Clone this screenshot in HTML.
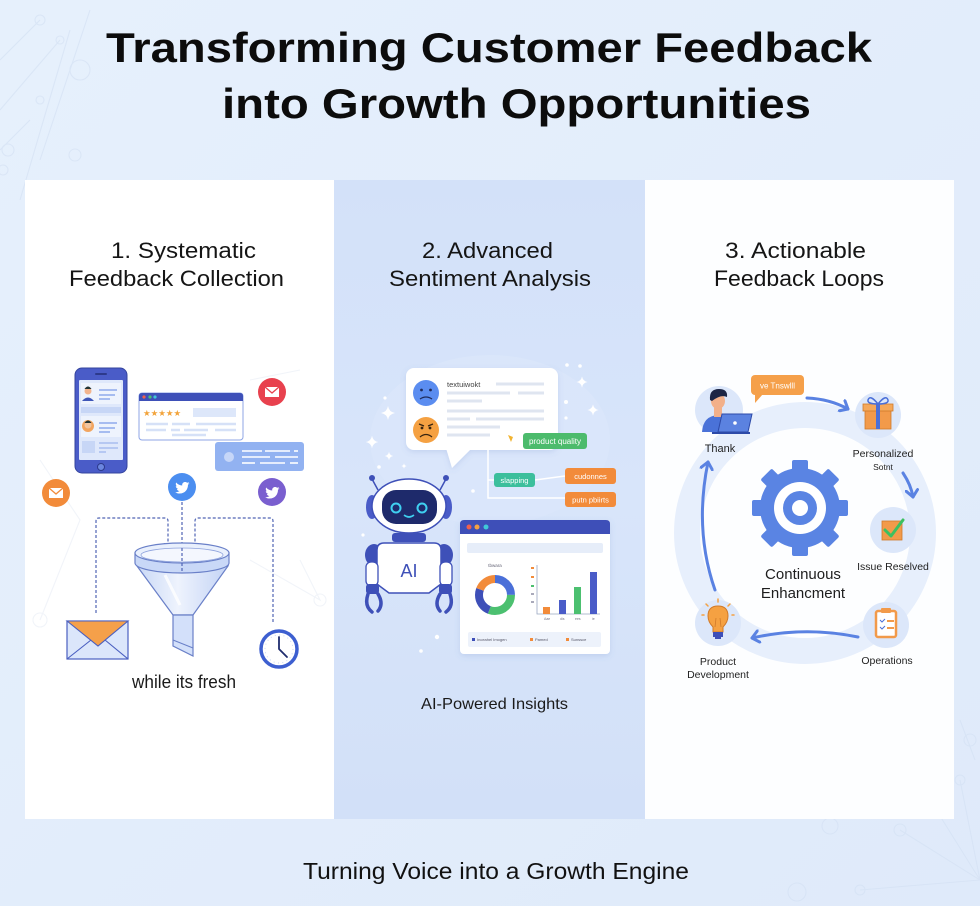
<!DOCTYPE html>
<html><head><meta charset="utf-8"><style>
html,body{margin:0;padding:0;width:980px;height:906px;overflow:hidden;background:#e3eefb}
svg{display:block}
text{font-family:"Liberation Sans",Arial,sans-serif}
</style></head><body>
<svg width="980" height="906" viewBox="0 0 980 906" xmlns="http://www.w3.org/2000/svg">
<defs>
<linearGradient id="bg" x1="0" y1="0" x2="1" y2="1"><stop offset="0" stop-color="#e6f0fc"/><stop offset="1" stop-color="#dfeafa"/></linearGradient>
<linearGradient id="p2" x1="0" y1="0" x2="0" y2="1"><stop offset="0" stop-color="#d3e1f9"/><stop offset="0.5" stop-color="#d8e5fa"/><stop offset="1" stop-color="#d2e0f8"/></linearGradient>
<linearGradient id="fun" x1="0" y1="0" x2="1" y2="0"><stop offset="0" stop-color="#c9d8f6"/><stop offset="0.45" stop-color="#eef3fd"/><stop offset="1" stop-color="#c3d3f5"/></linearGradient>
<filter id="sh" x="-10%" y="-10%" width="120%" height="130%"><feDropShadow dx="0" dy="2" stdDeviation="3" flood-color="#5a78c0" flood-opacity="0.18"/></filter>
<marker id="ah" markerWidth="8" markerHeight="8" refX="5" refY="4" orient="auto" markerUnits="userSpaceOnUse"><path d="M0,0 L6,4 L0,8" fill="none" stroke="#4e6bc0" stroke-width="1.2"/></marker>
<marker id="ab" markerWidth="14" markerHeight="14" refX="8" refY="7" orient="auto" markerUnits="userSpaceOnUse"><path d="M1,1 L8,7 L1,13" fill="none" stroke="#5a82e2" stroke-width="3" stroke-linecap="round" stroke-linejoin="round"/></marker>
<path id="bird" d="M23 5c-.8.4-1.7.6-2.6.7.9-.6 1.6-1.4 2-2.5-.9.5-1.8.9-2.8 1.1C18.7 3.4 17.5 3 16.3 3c-2.5 0-4.5 2-4.5 4.5 0 .4 0 .7.1 1C8.1 8.3 4.8 6.5 2.6 3.8c-.4.7-.6 1.5-.6 2.3 0 1.6.8 2.9 2 3.7-.7 0-1.4-.2-2-.6v.1c0 2.2 1.6 4 3.6 4.4-.4.1-.8.2-1.2.2-.3 0-.6 0-.8-.1.6 1.8 2.2 3.1 4.2 3.1-1.5 1.2-3.5 1.9-5.6 1.9H1c2 1.3 4.4 2 6.9 2 8.3 0 12.8-6.9 12.8-12.8v-.6C21.6 6.7 22.4 5.9 23 5z" fill="#fff"/>
<path id="spark" d="M0,-7 Q1,-1 7,0 Q1,1 0,7 Q-1,1 -7,0 Q-1,-1 0,-7Z" fill="#fff"/>
</defs>

<rect width="980" height="906" fill="url(#bg)"/>
<!-- background network decorations -->
<g stroke="#d3e0f3" stroke-width="1.1" fill="none" opacity="0.6">
<path d="M0,60 L40,20 M0,110 L60,40 M20,200 L70,30 M40,160 L90,10 M0,150 L30,120"/>
<circle cx="40" cy="20" r="5"/><circle cx="60" cy="40" r="4"/><circle cx="8" cy="150" r="6"/><circle cx="80" cy="70" r="10"/><circle cx="40" cy="100" r="4"/><circle cx="75" cy="155" r="6"/><circle cx="3" cy="170" r="5"/>
<path d="M980,880 L900,830 M980,880 L930,800 M980,880 L960,780 M980,880 L860,890 M960,720 L975,760"/>
<circle cx="900" cy="830" r="6"/><circle cx="930" cy="800" r="5"/><circle cx="960" cy="780" r="5"/><circle cx="860" cy="890" r="5"/><circle cx="830" cy="826" r="8"/><circle cx="797" cy="892" r="9"/><circle cx="970" cy="740" r="6"/>
</g>

<!-- Title -->
<text x="106" y="62" font-size="42" font-weight="bold" fill="#0c0c0c" textLength="766" lengthAdjust="spacingAndGlyphs">Transforming Customer Feedback</text>
<text x="222" y="118" font-size="42" font-weight="bold" fill="#0c0c0c" textLength="589" lengthAdjust="spacingAndGlyphs">into Growth Opportunities</text>

<!-- Panels -->
<rect x="25" y="180" width="309" height="639" fill="#ffffff"/>
<rect x="334" y="180" width="311" height="639" fill="url(#p2)"/>
<rect x="645" y="180" width="309" height="639" fill="#fdfeff"/>

<!-- Headings -->
<g font-size="22" fill="#151515">
<text x="111" y="258" textLength="145" lengthAdjust="spacingAndGlyphs">1. Systematic</text>
<text x="69" y="286" textLength="215" lengthAdjust="spacingAndGlyphs">Feedback Collection</text>
<text x="422" y="258" textLength="131" lengthAdjust="spacingAndGlyphs">2. Advanced</text>
<text x="389" y="286" textLength="202" lengthAdjust="spacingAndGlyphs">Sentiment Analysis</text>
<text x="725" y="258" textLength="141" lengthAdjust="spacingAndGlyphs">3. Actionable</text>
<text x="714" y="286" textLength="170" lengthAdjust="spacingAndGlyphs">Feedback Loops</text>
</g>

<!-- ============ PANEL 1 ============ -->
<g stroke="#f1f4f9" stroke-width="1.1" fill="none">
<path d="M40,460 L80,520 L40,620 M250,380 L300,370 M300,560 L320,600 L250,560"/>
<circle cx="40" cy="620" r="7"/><circle cx="320" cy="600" r="6"/>
</g>
<!-- phone -->
<rect x="75" y="368" width="52" height="105" rx="7" fill="#4a5cc8" stroke="#34449e" stroke-width="1"/>
<rect x="79" y="380" width="44" height="80" rx="1" fill="#dfe8fb"/>
<rect x="95" y="373" width="12" height="2" rx="1" fill="#2d3a8c"/>
<circle cx="101" cy="467" r="3.5" fill="#6b86e0" stroke="#2d3a8c" stroke-width="1"/>
<rect x="81" y="383" width="40" height="21" fill="#eef3fd"/>
<circle cx="88" cy="391" r="3.5" fill="#f2b48e"/><path d="M84.5,389 Q88,384 91.5,389Z" fill="#233"/><path d="M82,401 Q88,394 94,401Z" fill="#3e56b8"/>
<g stroke="#8fa9ec" stroke-width="1.5"><line x1="99" y1="390" x2="117" y2="390"/><line x1="99" y1="395" x2="115" y2="395"/><line x1="99" y1="399" x2="110" y2="399"/></g>
<rect x="81" y="407" width="40" height="6" fill="#c7d6f6"/>
<rect x="81" y="416" width="40" height="21" fill="#eef3fd"/>
<circle cx="88" cy="426" r="6" fill="#f2a560"/><circle cx="88" cy="425" r="3.5" fill="#f2c49e"/><path d="M84.5,423 Q88,418 91.5,423Z" fill="#233"/>
<g stroke="#8fa9ec" stroke-width="1.5"><line x1="99" y1="423" x2="117" y2="423"/><line x1="99" y1="428" x2="115" y2="428"/><line x1="99" y1="432" x2="110" y2="432"/></g>
<rect x="82" y="441" width="13" height="12" fill="#c7d6f6"/>
<g stroke="#a9bdf0" stroke-width="1.5"><line x1="99" y1="443" x2="118" y2="443"/><line x1="99" y1="448" x2="118" y2="448"/><line x1="99" y1="452" x2="106" y2="452"/></g>
<!-- review card -->
<rect x="139" y="393" width="104" height="47" rx="3" fill="#fff" stroke="#8fa6e6" stroke-width="1"/>
<path d="M139,401 V396 Q139,393 142,393 H240 Q243,393 243,396 V401Z" fill="#3e50b8"/>
<circle cx="144" cy="397" r="1.6" fill="#f0604d"/><circle cx="150" cy="397" r="1.6" fill="#4cc070"/><circle cx="155" cy="397" r="1.6" fill="#40c8d8"/>
<g fill="#f2a33a" font-size="8.5"><text x="143" y="416">★★★★★</text></g>
<rect x="193" y="408" width="43" height="9" fill="#dde7fa"/>
<g stroke="#d6e1f7" stroke-width="2.5"><line x1="146" y1="424" x2="168" y2="424"/><line x1="172" y1="424" x2="190" y2="424"/><line x1="196" y1="424" x2="236" y2="424"/><line x1="146" y1="430" x2="166" y2="430"/><line x1="171" y1="430" x2="180" y2="430"/><line x1="184" y1="430" x2="208" y2="430"/><line x1="215" y1="430" x2="236" y2="430"/><line x1="172" y1="435" x2="206" y2="435"/></g>
<!-- red mail -->
<circle cx="272" cy="392" r="14" fill="#e8414e"/>
<rect x="265" y="387" width="14" height="10" fill="#fff"/><path d="M265,387 L272,393 L279,387" fill="none" stroke="#e8414e" stroke-width="1.3"/>
<!-- message -->
<rect x="215" y="442" width="89" height="29" rx="3" fill="#92b2f1"/>
<circle cx="229" cy="457" r="5" fill="#c6d6f8"/>
<g stroke="#fff" stroke-width="1.6"><line x1="242" y1="451" x2="262" y2="451"/><line x1="265" y1="451" x2="290" y2="451"/><line x1="294" y1="451" x2="298" y2="451"/><line x1="242" y1="457" x2="270" y2="457"/><line x1="275" y1="457" x2="298" y2="457"/><line x1="242" y1="463" x2="255" y2="463"/><line x1="260" y1="463" x2="285" y2="463"/><line x1="290" y1="463" x2="298" y2="463"/></g>
<!-- social circles -->
<circle cx="56" cy="493" r="14" fill="#f28b3a"/>
<rect x="49" y="488" width="14" height="10" fill="#fff"/><path d="M49,488 L56,494 L63,488" fill="none" stroke="#f28b3a" stroke-width="1.3"/>
<circle cx="182" cy="487" r="14" fill="#4b8ef0"/>
<use href="#bird" transform="translate(174.5,480) scale(0.65)"/>
<circle cx="272" cy="492" r="14" fill="#7a5fcf"/>
<use href="#bird" transform="translate(264.5,485) scale(0.65)"/>
<!-- dashed lines -->
<g fill="none" stroke="#5065b5" stroke-width="1.2" stroke-dasharray="3 2">
<path d="M182,502 V572"/>
<path d="M96,613 V521 Q96,518 99,518 H165 Q168,518 168,521 V548" marker-end="url(#ah)"/>
<path d="M273,622 V521 Q273,518 270,518 H198 Q195,518 195,521 V548" marker-end="url(#ah)"/>
</g>
<!-- funnel -->
<path d="M137,566 L173,615 L193,615 L228,566 Z" fill="url(#fun)" stroke="#6a80c8" stroke-width="1.2"/>
<path d="M165,575 L180,605" stroke="#fff" stroke-width="3" opacity="0.8"/>
<path d="M173,615 L173,646 L193,656 L193,615 Z" fill="#d3e0fa" stroke="#6a80c8" stroke-width="1.2"/>
<path d="M173,640 L193,648" stroke="#6a80c8" stroke-width="1"/>
<path d="M135,553 L135,563 A47,10 0 0 0 229,563 L229,553 Z" fill="#c9d8f7" stroke="#6a80c8" stroke-width="1.2"/>
<ellipse cx="182" cy="553" rx="47" ry="10" fill="#e9f0fd" stroke="#6a80c8" stroke-width="1.2"/>
<ellipse cx="182" cy="555" rx="41" ry="7" fill="#f4f7fe" stroke="#8ea2dc" stroke-width="0.8"/>
<line x1="182" y1="548" x2="182" y2="572" stroke="#5065b5" stroke-width="1.2" stroke-dasharray="3 2"/>
<!-- envelope -->
<rect x="67" y="621" width="61" height="38" fill="#dbe6fb" stroke="#4a5fc0" stroke-width="1.2"/>
<path d="M67,659 L91,640 M128,659 L105,640" stroke="#4a5fc0" stroke-width="1.1"/>
<path d="M67,621 L98,646 L128,621 Z" fill="#f5a04a" stroke="#4a5fc0" stroke-width="1.1"/>
<!-- clock -->
<circle cx="279" cy="649" r="18" fill="#fff" stroke="#3d5fd0" stroke-width="3.5"/>
<circle cx="279" cy="649" r="14" fill="none" stroke="#c9d6f4" stroke-width="1" stroke-dasharray="1 3.4"/>
<path d="M279,649 V637 M279,649 L287,657" stroke="#1f2c6e" stroke-width="1.8" stroke-linecap="round"/>
<text x="132" y="688" font-size="18" fill="#1a1a1a" textLength="104" lengthAdjust="spacingAndGlyphs">while its fresh</text>

<!-- ============ PANEL 2 ============ -->
<ellipse cx="490" cy="440" rx="120" ry="85" fill="#dce7fb" opacity="0.7"/>
<g>
<use href="#spark" transform="translate(388,413)"/>
<use href="#spark" transform="translate(372,442) scale(0.9)"/>
<use href="#spark" transform="translate(389,456) scale(0.6)"/>
<use href="#spark" transform="translate(582,382) scale(0.8)"/>
<use href="#spark" transform="translate(593,410) scale(0.8)"/>
<use href="#spark" transform="translate(404,466) scale(0.4)"/>
<circle cx="567" cy="365" r="1.8" fill="#fff"/><circle cx="580" cy="366" r="1.8" fill="#fff"/><circle cx="566" cy="402" r="2" fill="#fff"/><circle cx="566" cy="418" r="1.6" fill="#fff"/><circle cx="385" cy="398" r="1.6" fill="#fff"/><circle cx="379" cy="467" r="1.8" fill="#fff"/><circle cx="473" cy="491" r="1.8" fill="#fff"/><circle cx="437" cy="637" r="2.2" fill="#fff"/><circle cx="421" cy="651" r="1.8" fill="#fff"/><circle cx="363" cy="535" r="1.6" fill="#fff"/>
</g>
<!-- bubble -->
<g filter="url(#sh)">
<rect x="406" y="368" width="152" height="82" rx="8" fill="#fff"/>
<path d="M446,448 L452,468 L472,448 Z" fill="#fff"/>
</g>
<circle cx="426" cy="393" r="13" fill="#5b8df0"/>
<circle cx="421.5" cy="390" r="1.4" fill="#1e2a5a"/><circle cx="430.5" cy="390" r="1.4" fill="#1e2a5a"/><path d="M420,399 Q426,395 432,399" fill="none" stroke="#1e2a5a" stroke-width="1.3"/>
<circle cx="426" cy="430" r="13" fill="#f5a142"/>
<path d="M419,424 L424,426 M433,424 L428,426" stroke="#3a2510" stroke-width="1.3"/><circle cx="422" cy="428" r="1.4" fill="#3a2510"/><circle cx="430" cy="428" r="1.4" fill="#3a2510"/><path d="M420,437 Q426,432 432,437" fill="none" stroke="#3a2510" stroke-width="1.3"/>
<text x="447" y="387" font-size="7.5" fill="#444">textuiwokt</text>
<g stroke="#dfe5f0" stroke-width="3"><line x1="496" y1="384" x2="544" y2="384"/><line x1="447" y1="393" x2="510" y2="393"/><line x1="518" y1="393" x2="544" y2="393"/><line x1="447" y1="401" x2="482" y2="401"/><line x1="447" y1="411" x2="544" y2="411"/><line x1="447" y1="419" x2="470" y2="419"/><line x1="476" y1="419" x2="544" y2="419"/><line x1="447" y1="427" x2="500" y2="427"/><line x1="447" y1="435" x2="490" y2="435"/></g>
<path d="M508,435 L513,437 L511,442 Z" fill="#f2b330"/>
<!-- tags & connectors -->
<g stroke="#fff" stroke-width="1.5" fill="none"><path d="M488,450 V498 H565 M488,480 H494 M535,480 Q550,478 565,476"/></g>
<rect x="523" y="433" width="64" height="16" rx="3" fill="#4cbb6c"/>
<text x="555" y="444" font-size="8" fill="#fff" text-anchor="middle">product quality</text>
<rect x="494" y="473" width="41" height="14" rx="3" fill="#3cbf9c"/>
<text x="514.5" y="483" font-size="7.5" fill="#fff" text-anchor="middle">slapping</text>
<rect x="565" y="468" width="51" height="16" rx="3" fill="#f28b3a"/>
<text x="590.5" y="479" font-size="7.5" fill="#fff" text-anchor="middle">cudonnes</text>
<rect x="565" y="492" width="51" height="15" rx="3" fill="#f28b3a"/>
<text x="590.5" y="502.5" font-size="7.5" fill="#fff" text-anchor="middle">putn pbiirts</text>
<!-- robot -->
<line x1="378" y1="490" x2="372" y2="479" stroke="#3e50b8" stroke-width="1.5"/><circle cx="372" cy="478" r="3" fill="#3e50b8"/>
<line x1="440" y1="490" x2="446" y2="479" stroke="#3e50b8" stroke-width="1.5"/><circle cx="446" cy="478" r="3" fill="#3e50b8"/>
<ellipse cx="372" cy="507" rx="6" ry="12" fill="#4a5cc8"/><ellipse cx="446" cy="507" rx="6" ry="12" fill="#4a5cc8"/>
<ellipse cx="409" cy="506" rx="37" ry="27" fill="#fff" stroke="#3e50b8" stroke-width="1.5"/>
<rect x="382" y="490" width="55" height="34" rx="14" fill="#1e2a6b"/>
<circle cx="396" cy="508" r="4.5" fill="none" stroke="#3fd0f0" stroke-width="2"/><circle cx="422" cy="508" r="4.5" fill="none" stroke="#3fd0f0" stroke-width="2"/>
<path d="M404,515 Q409,519 414,515" fill="none" stroke="#3fd0f0" stroke-width="1.6"/>
<rect x="392" y="533" width="34" height="9" rx="3" fill="#3e50b8"/>
<ellipse cx="374" cy="555" rx="9" ry="11" fill="#3e50b8"/><ellipse cx="444" cy="555" rx="9" ry="11" fill="#3e50b8"/>
<path d="M384,543 H434 Q441,543 441,550 V584 L429,593 H389 L377,584 V550 Q377,543 384,543 Z" fill="#fff" stroke="#3e50b8" stroke-width="1.5"/>
<text x="409" y="577" font-size="18" fill="#3e50b8" text-anchor="middle">AI</text>
<rect x="366" y="562" width="12" height="24" rx="5" fill="#fff" stroke="#3e50b8" stroke-width="1.3"/>
<rect x="440" y="562" width="12" height="24" rx="5" fill="#fff" stroke="#3e50b8" stroke-width="1.3"/>
<rect x="366" y="584" width="13" height="10" rx="3" fill="#3e50b8"/><rect x="439" y="584" width="13" height="10" rx="3" fill="#3e50b8"/>
<path d="M368,594 Q364,606 372,612 M378,594 Q384,604 378,611" fill="none" stroke="#3e50b8" stroke-width="3.5" stroke-linecap="round"/>
<path d="M450,594 Q454,606 446,612 M440,594 Q434,604 440,611" fill="none" stroke="#3e50b8" stroke-width="3.5" stroke-linecap="round"/>
<!-- dashboard -->
<g filter="url(#sh)"><rect x="460" y="520" width="150" height="134" rx="4" fill="#fff"/></g>
<path d="M460,534 V524 Q460,520 464,520 H606 Q610,520 610,524 V534Z" fill="#3e4fb8"/>
<circle cx="469" cy="527" r="2.5" fill="#f0604d"/><circle cx="477" cy="527" r="2.5" fill="#f5a142"/><circle cx="486" cy="527" r="2.5" fill="#40c8d8"/>
<rect x="467" y="543" width="136" height="10" rx="2" fill="#e6edf9"/>
<text x="495" y="567" font-size="4.5" fill="#667" text-anchor="middle">tbwara</text>
<g fill="none" stroke-width="8" transform="rotate(-90 495 595)">
<circle cx="495" cy="595" r="16" stroke="#4a6fd8" stroke-dasharray="25 76"/>
<circle cx="495" cy="595" r="16" stroke="#4cc070" stroke-dasharray="0 25 31 45"/>
<circle cx="495" cy="595" r="16" stroke="#3e4fb8" stroke-dasharray="0 56 25 20"/>
<circle cx="495" cy="595" r="16" stroke="#f28b3a" stroke-dasharray="0 81 20 0"/>
</g>
<path d="M537,565 V614 H600" fill="none" stroke="#99a6c0" stroke-width="0.8"/>
<g><rect x="531" y="567" width="3" height="2" fill="#f28b3a"/><rect x="531" y="576" width="3" height="2" fill="#f28b3a"/><rect x="531" y="585" width="3" height="2" fill="#4cc070"/><rect x="531" y="593" width="3" height="2" fill="#aab"/><rect x="531" y="601" width="3" height="2" fill="#aab"/></g>
<rect x="543" y="607" width="7" height="7" fill="#f28b3a"/>
<rect x="559" y="600" width="7" height="14" fill="#4a5cc8"/>
<rect x="574" y="587" width="7" height="27" fill="#4cc070"/>
<rect x="590" y="572" width="7" height="42" fill="#4a5cc8"/>
<g font-size="3.5" fill="#778"><text x="544" y="620">Aae</text><text x="560" y="620">dis</text><text x="575" y="620">ees</text><text x="592" y="620">ie</text></g>
<rect x="468" y="632" width="133" height="15" rx="2" fill="#edf2fb"/>
<rect x="472" y="638" width="3" height="3" fill="#3e4fb8"/><text x="477" y="641" font-size="4" fill="#556">Inceahel Imogen</text>
<rect x="530" y="638" width="3" height="3" fill="#f28b3a"/><text x="535" y="641" font-size="4" fill="#556">Pamed</text>
<rect x="566" y="638" width="3" height="3" fill="#f28b3a"/><text x="571" y="641" font-size="4" fill="#556">Sunssce</text>
<text x="421" y="709" font-size="16" fill="#1a1a1a" textLength="147" lengthAdjust="spacingAndGlyphs">AI-Powered Insights</text>

<!-- ============ PANEL 3 ============ -->
<circle cx="805" cy="533" r="118" fill="none" stroke="#e7effc" stroke-width="26"/>
<!-- arrows -->
<g fill="none" stroke="#5a82e2" stroke-width="3" stroke-linecap="round">
<path d="M807,398 Q830,399 848,409" marker-end="url(#ab)"/>
<path d="M903,473 Q911,485 913,497" marker-end="url(#ab)"/>
<path d="M858,637 Q805,626 752,638" marker-end="url(#ab)"/>
<path d="M715,590 Q694,530 708,462" marker-end="url(#ab)"/>
</g>
<!-- person node -->
<circle cx="719" cy="410" r="24" fill="#dce7fa"/>
<path d="M702,432 Q703,416 718,415 Q733,416 734,432Z" fill="#4a72d8"/>
<rect x="714" y="405" width="8" height="12" fill="#f2b08a"/>
<ellipse cx="718" cy="401" rx="7" ry="8" fill="#f2b08a"/>
<path d="M710,400 Q709,389 719,389 Q728,389 727,397 Q721,394 712,401Z" fill="#1c2545"/>
<path d="M722,414 L752,414 L748,432 L718,432Z" fill="#5b82e0" stroke="#2d4aa8" stroke-width="1"/>
<rect x="712" y="432" width="38" height="2" fill="#2d4aa8"/>
<circle cx="735" cy="423" r="1.8" fill="#fff"/>
<!-- orange bubble -->
<rect x="751" y="375" width="53" height="20" rx="4" fill="#f5a04a"/>
<path d="M755,394 L755,403 L763,394Z" fill="#f5a04a"/>
<text x="777.5" y="388.5" font-size="8" fill="#fff" text-anchor="middle">ve Tnswlll</text>
<text x="720" y="452" font-size="11" fill="#222" text-anchor="middle">Thank</text>
<!-- gift -->
<circle cx="878" cy="415" r="23" fill="#dce7fa"/>
<rect x="865" y="409" width="26" height="20" fill="#f29a4a" stroke="#d07a2a" stroke-width="0.8"/>
<rect x="863" y="404" width="30" height="7" fill="#f5a85a" stroke="#d07a2a" stroke-width="0.8"/>
<rect x="876" y="404" width="4" height="25" fill="#4a6fd8"/>
<path d="M878,404 Q870,394 868,400 Q867,404 878,404 Q889,404 888,400 Q886,394 878,404" fill="none" stroke="#4a6fd8" stroke-width="1.5"/>
<text x="883" y="457" font-size="10.5" fill="#222" text-anchor="middle">Personalized</text>
<text x="883" y="470" font-size="8.5" fill="#222" text-anchor="middle">Sotnt</text>
<!-- check -->
<circle cx="893" cy="530" r="23" fill="#dce7fa"/>
<rect x="882" y="521" width="20" height="19" fill="#f29a4a" stroke="#d07a2a" stroke-width="0.8"/>
<path d="M885,530 L891,536 L903,520" fill="none" stroke="#3cc060" stroke-width="3" stroke-linecap="round" stroke-linejoin="round"/>
<text x="893" y="570" font-size="10.5" fill="#222" text-anchor="middle">Issue Reselved</text>
<!-- operations -->
<circle cx="886" cy="625" r="23" fill="#dce7fa"/>
<rect x="876" y="611" width="20" height="26" rx="2" fill="#fff" stroke="#f29a4a" stroke-width="2.5"/>
<rect x="881" y="608" width="10" height="5" rx="1" fill="#f29a4a"/>
<path d="M880,620 L882,622 L885,619 M880,627 L882,629 L885,626" fill="none" stroke="#4a6fd8" stroke-width="1"/>
<path d="M887,621 H894 M887,628 H894" stroke="#f29a4a" stroke-width="2"/>
<text x="887" y="664" font-size="10.5" fill="#222" text-anchor="middle">Operations</text>
<!-- bulb -->
<circle cx="718" cy="623" r="23" fill="#dce7fa"/>
<path d="M718,606 Q728,606 728,616 Q728,622 723,627 L723,632 H713 L713,627 Q708,622 708,616 Q708,606 718,606Z" fill="#f5a142" stroke="#d07a2a" stroke-width="1"/>
<rect x="713" y="632" width="10" height="5" fill="#3e4fb8"/><rect x="715" y="637" width="6" height="2" fill="#3e4fb8"/>
<path d="M715,627 L716,618 M721,627 L720,618" stroke="#d07a2a" stroke-width="0.8"/>
<g stroke="#f5a142" stroke-width="1.5" stroke-linecap="round"><path d="M718,599 V602 M706,604 L708,606 M730,604 L728,606 M702,615 H704 M732,615 H734"/></g>
<text x="718" y="665" font-size="10.5" fill="#222" text-anchor="middle">Product</text>
<text x="718" y="678" font-size="10.5" fill="#222" text-anchor="middle">Development</text>
<!-- gear -->
<g transform="translate(800,508)" fill="#5a84e3">
<circle r="40"/>
<rect x="-8" y="-48" width="16" height="14" rx="2"/>
<rect x="-8" y="-48" width="16" height="14" rx="2" transform="rotate(45)"/>
<rect x="-8" y="-48" width="16" height="14" rx="2" transform="rotate(90)"/>
<rect x="-8" y="-48" width="16" height="14" rx="2" transform="rotate(135)"/>
<rect x="-8" y="-48" width="16" height="14" rx="2" transform="rotate(180)"/>
<rect x="-8" y="-48" width="16" height="14" rx="2" transform="rotate(225)"/>
<rect x="-8" y="-48" width="16" height="14" rx="2" transform="rotate(270)"/>
<rect x="-8" y="-48" width="16" height="14" rx="2" transform="rotate(315)"/>
<circle r="26" fill="#fff"/>
<circle r="17" fill="#5a84e3"/>
<circle r="8" fill="#fff"/>
</g>
<text x="803" y="579" font-size="15" fill="#1e1e1e" text-anchor="middle">Continuous</text>
<text x="803" y="598" font-size="15" fill="#1e1e1e" text-anchor="middle">Enhancment</text>

<!-- footer -->
<text x="303" y="879" font-size="23" fill="#111" textLength="386" lengthAdjust="spacingAndGlyphs">Turning Voice into a Growth Engine</text>
</svg>
</body></html>
